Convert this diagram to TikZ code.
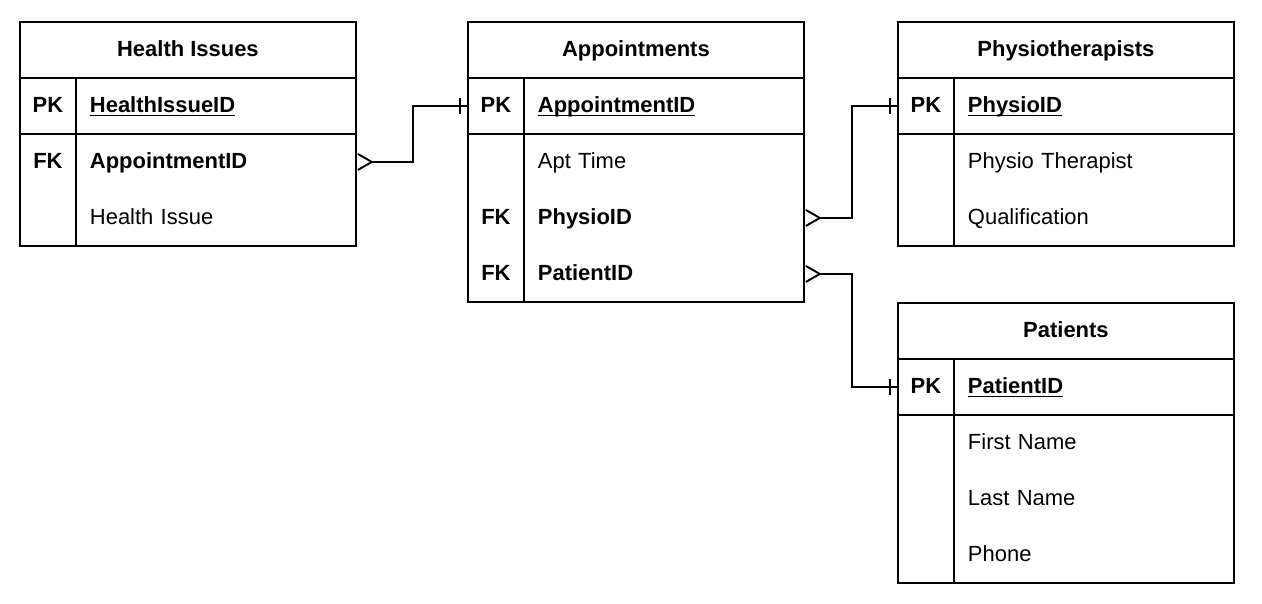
\documentclass[tikz,border=0pt]{standalone}
\usepackage{fontspec}
\setmainfont{Liberation Sans}
\usetikzlibrary{arrows.meta, decorations.markings}
\newcommand{\erfont}{\fontsize{12.5}{15}\selectfont}
\newcommand{\pkname}[1]{\underline{\smash{#1}}}
\tikzstyle{thead} = [rectangle, draw, anchor=north west, minimum width=6.72cm, minimum height=1.12cm, text height=10pt, text depth=2.5pt, font=\erfont\bfseries]
\tikzstyle{kcell} = [rectangle, draw, anchor=north west, minimum width=1.12cm, minimum height=1.12cm, inner sep=0pt, text height=10pt, text depth=2.5pt, font=\erfont\bfseries]
\tikzstyle{ncell} = [rectangle, draw, anchor=north west, minimum height=1.12cm, text width=5.04cm, inner xsep=0.28cm, align=left, text height=10pt, text depth=2.5pt, font=\erfont]
\tikzstyle{kbody} = [rectangle, draw, anchor=north west, minimum width=1.12cm]
\tikzstyle{nbody} = [rectangle, draw, anchor=north west, minimum width=5.6cm]
\tikzstyle{krow} = [kcell, draw=none]
\tikzstyle{frow} = [ncell, draw=none]
\tikzstyle{rel} = [draw, {Straight Barb[reversed, length=0.28cm, width=0.32cm]}-, postaction={decorate}, decoration={markings, mark=at position -0.14cm with {\draw[-] (0,-0.16cm) -- (0,0.16cm);}}]

\begin{document}
\begin{tikzpicture}[x=0.02cm, y=-0.02cm, line width=1.1pt]
    \useasboundingbox (0,0) rectangle (1262,604);

    % Health Issues
    \node[thead](hiHead) at (19,21) {Health Issues};
    \node[kcell](hiPKkey) at (19,77) {PK};
    \node[ncell, font=\erfont\bfseries](hiPK) at (75,77) {\pkname{HealthIssueID}};
    \node[kbody, minimum height=2.24cm](hiKeys) at (19,133) {};
    \node[nbody, minimum height=2.24cm](hiFields) at (75,133) {};
    \node[krow](hiFKkey) at (19,133) {FK};
    \node[frow, font=\erfont\bfseries](hiApt) at (75,133) {AppointmentID};
    \node[frow](hiIssue) at (75,189) {Health Issue};

    % Appointments
    \node[thead](apHead) at (467,21) {Appointments};
    \node[kcell](apPKkey) at (467,77) {PK};
    \node[ncell, font=\erfont\bfseries](apPK) at (523,77) {\pkname{AppointmentID}};
    \node[kbody, minimum height=3.36cm](apKeys) at (467,133) {};
    \node[nbody, minimum height=3.36cm](apFields) at (523,133) {};
    \node[frow](apTime) at (523,133) {Apt Time};
    \node[krow](apFKphysio) at (467,189) {FK};
    \node[frow, font=\erfont\bfseries](apPhysio) at (523,189) {PhysioID};
    \node[krow](apFKpatient) at (467,245) {FK};
    \node[frow, font=\erfont\bfseries](apPatient) at (523,245) {PatientID};

    % Physiotherapists
    \node[thead](phHead) at (897,21) {Physiotherapists};
    \node[kcell](phPKkey) at (897,77) {PK};
    \node[ncell, font=\erfont\bfseries](phPK) at (953,77) {\pkname{PhysioID}};
    \node[kbody, minimum height=2.24cm](phKeys) at (897,133) {};
    \node[nbody, minimum height=2.24cm](phFields) at (953,133) {};
    \node[frow](phName) at (953,133) {Physio Therapist};
    \node[frow](phQual) at (953,189) {Qualification};

    % Patients
    \node[thead](paHead) at (897,302) {Patients};
    \node[kcell](paPKkey) at (897,358) {PK};
    \node[ncell, font=\erfont\bfseries](paPK) at (953,358) {\pkname{PatientID}};
    \node[kbody, minimum height=3.36cm](paKeys) at (897,414) {};
    \node[nbody, minimum height=3.36cm](paFields) at (953,414) {};
    \node[frow](paFirst) at (953,414) {First Name};
    \node[frow](paLast) at (953,470) {Last Name};
    \node[frow](paPhone) at (953,526) {Phone};

    % relations
    \path[rel] (hiApt.east) -- ++(56,0) |- (apPKkey.west);
    \path[rel] (apPhysio.east) -- ++(47,0) |- (phPKkey.west);
    \path[rel] (apPatient.east) -- ++(47,0) |- (paPKkey.west);
\end{tikzpicture}
\end{document}
